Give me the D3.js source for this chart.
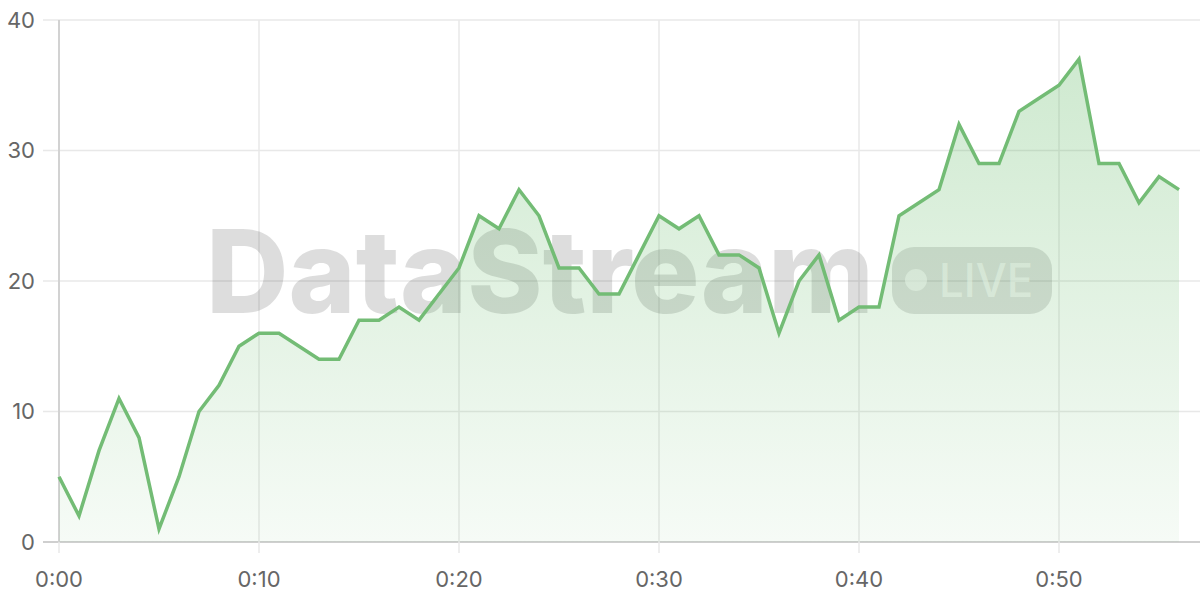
<!DOCTYPE html>
<html><head><meta charset="utf-8">
<script src="https://cdn.jsdelivr.net/npm/d3@7"></script>
<style>html,body{margin:0;padding:0;background:#fff;}svg{display:block;}</style>
</head><body>
<svg id="chart" width="1200" height="600"></svg>
<script>
const minutes = d3.range(0, 57);
const values = [5,2,7,11,8,1,5,10,12,15,16,16,15,14,14,17,17,18,17,19,21,25,24,27,25,21,21,19,19,22,25,24,25,22,22,21,16,20,22,17,18,18,25,26,27,32,29,29,33,34,35,37,29,29,26,28,27];
const xTicks = [0,10,20,30,40,50];
const yTicks = [0,10,20,30,40];
const watermark = "DataStream";
const badge = "LIVE";

const data = minutes.map((m,i)=>({m, v: values[i]}));
const svg = d3.select("#chart");
const x = d3.scaleLinear().domain([0,56]).range([59,1179]);
const y = d3.scaleLinear().domain([0,40]).range([542,20]);

const defs = svg.append("defs");
const grad = defs.append("linearGradient").attr("id","ag").attr("x1",0).attr("y1",0).attr("x2",0).attr("y2",1);
grad.append("stop").attr("offset","0%").attr("stop-color","#4caf50").attr("stop-opacity",0.27);
grad.append("stop").attr("offset","100%").attr("stop-color","#4caf50").attr("stop-opacity",0.05);

// grid
svg.append("g").selectAll("line").data(yTicks).join("line")
  .attr("x1",43).attr("x2",1200).attr("y1",d=>y(d)).attr("y2",d=>y(d))
  .attr("stroke",d=>d===0?"#cfcfcf":"#e8e8e8").attr("stroke-width",d=>d===0?2:1.5);
svg.append("g").selectAll("line").data(xTicks).join("line")
  .attr("x1",d=>x(d)).attr("x2",d=>x(d)).attr("y1",20).attr("y2",553)
  .attr("stroke","#e8e8e8").attr("stroke-width",1.5);
svg.append("line").attr("x1",x(0)).attr("x2",x(0)).attr("y1",20).attr("y2",542)
  .attr("stroke","#d2d2d2").attr("stroke-width",2);

// labels
svg.append("g").selectAll("text").data(yTicks).join("text")
  .attr("x",35).attr("y",d=>y(d)).attr("dy","0.36em").attr("text-anchor","end")
  .attr("font-family","Inter, sans-serif").attr("font-size",22).attr("fill","#666")
  .text(d=>d);
svg.append("g").selectAll("text").data(xTicks).join("text")
  .attr("x",d=>x(d)).attr("y",579).attr("dy","0.36em").attr("text-anchor","middle")
  .attr("font-family","Inter, sans-serif").attr("font-size",22).attr("fill","#666")
  .text(d=>"0:"+String(d).padStart(2,"0"));

// watermark
const wm = svg.append("g");
wm.append("text").attr("x",206).attr("y",313)
  .attr("font-family","Inter, sans-serif").attr("font-weight",800).attr("font-size",115)
  .attr("textLength",668).attr("lengthAdjust","spacingAndGlyphs")
  .attr("fill","rgba(0,0,0,0.135)").text(watermark);
wm.append("rect").attr("x",892).attr("y",247).attr("width",160).attr("height",67).attr("rx",22)
  .attr("fill","rgba(0,0,0,0.12)");
wm.append("circle").attr("cx",916).attr("cy",280).attr("r",11).attr("fill","rgba(255,255,255,0.6)");
wm.append("text").attr("x",939).attr("y",297)
  .attr("font-family","Inter, sans-serif").attr("font-weight",500).attr("font-size",47)
  .attr("textLength",94).attr("lengthAdjust","spacingAndGlyphs")
  .attr("fill","rgba(255,255,255,0.6)").text(badge);

// area + line
svg.append("path").datum(data)
  .attr("d", d3.area().x(d=>x(d.m)).y0(y(0)).y1(d=>y(d.v)))
  .attr("fill","url(#ag)");
svg.append("path").datum(data)
  .attr("d", d3.line().x(d=>x(d.m)).y(d=>y(d.v)))
  .attr("fill","none").attr("stroke","#73bc75").attr("stroke-width",3.5).attr("stroke-linejoin","miter");
</script>
</body></html>
